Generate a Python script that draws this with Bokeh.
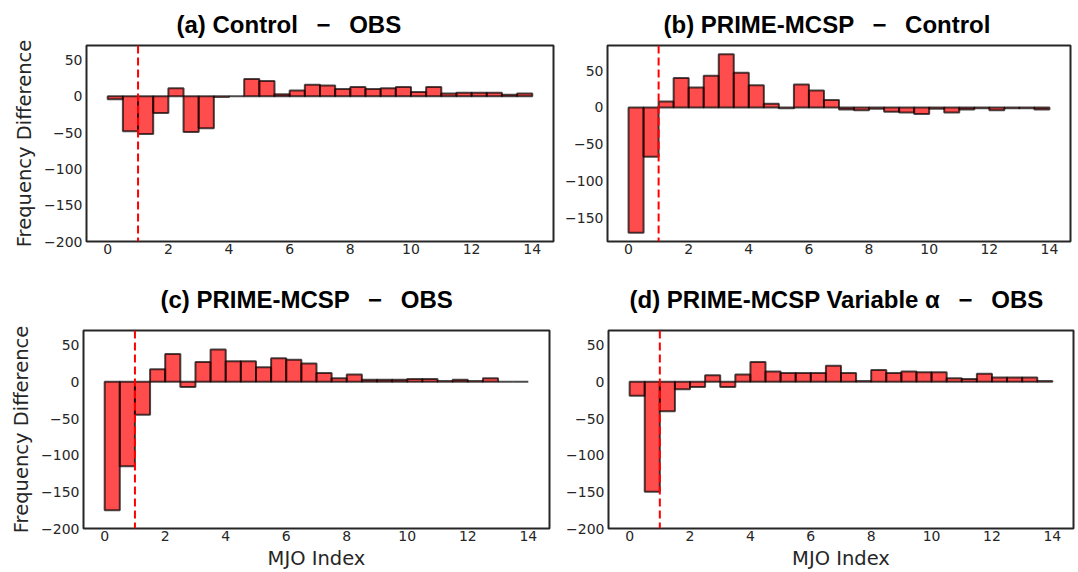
import numpy as np
from bokeh.plotting import figure
from bokeh.layouts import column, row
from bokeh.models import Range1d, Span, FixedTicker
from bokeh.embed import file_html
from bokeh.resources import INLINE

# ---------------- data ----------------
bin_edges = [0.0, 0.5, 1.0, 1.5, 2.0, 2.5, 3.0, 3.5, 4.0, 4.5, 5.0, 5.5, 6.0, 6.5,
             7.0, 7.5, 8.0, 8.5, 9.0, 9.5, 10.0, 10.5, 11.0, 11.5, 12.0, 12.5,
             13.0, 13.5, 14.0]

diff_control_obs = [-4, -48, -52, -23, 11, -49, -44, -1, 0, 24, 21, 3, 8, 16,
                    15, 10, 13, 10, 11, 13, 6, 13, 4, 5, 5, 5, 2, 4]
diff_prime_control = [-170, -67, 8, 40, 27, 43, 72, 47, 30, 5, -1, 31, 23, 10,
                      -3, -4, -2, -6, -7, -9, -2, -7, -3, -1, -4, -1, -1, -3]
diff_prime_obs = [-175, -115, -45, 17, 38, -7, 27, 44, 28, 28, 20, 32, 30, 25,
                  12, 5, 10, 3, 3, 3, 4, 4, 1, 3, 1, 5, 0, 0]
diff_prime_var_obs = [-19, -150, -40, -10, -7, 9, -7, 10, 27, 14, 12, 12, 12, 22,
                      12, 1, 16, 12, 14, 13, 13, 5, 4, 11, 6, 6, 6, 1]

titles = ["(a) Control \u2002\u2212\u2002 OBS",
          "(b) PRIME-MCSP \u2002\u2212\u2002 Control",
          "(c) PRIME-MCSP \u2002\u2212\u2002 OBS",
          "(d) PRIME-MCSP Variable \u03b1 \u2002\u2212\u2002 OBS"]

x_ticks = [0, 2, 4, 6, 8, 10, 12, 14]
y_ticks = [-200, -150, -100, -50, 0, 50]
threshold = 1.0
x_label = "MJO Index"
y_label = "Frequency Difference"

TXT = "#262626"


def make_panel(values, title, ylim, width, height, left, right, top, bottom,
               t_offset, t_standoff, show_ylabel, show_xlabel):
    p = figure(width=width, height=height,
               x_range=Range1d(-0.7, 14.7), y_range=Range1d(*ylim),
               output_backend="svg", toolbar_location=None,
               min_border_left=left, min_border_right=right,
               min_border_top=top, min_border_bottom=bottom,
               title=title)
    p.title.text_font = "Liberation Sans"
    p.title.text_font_size = "24px"
    p.title.text_font_style = "bold"
    p.title.text_color = "black"
    p.title.align = "left"
    p.title.offset = t_offset
    p.title.standoff = t_standoff

    p.xgrid.visible = False
    p.ygrid.visible = False
    p.outline_line_color = TXT
    p.outline_line_width = 2
    p.background_fill_color = "white"
    p.border_fill_color = "white"

    for ax in (p.xaxis, p.yaxis):
        ax.axis_line_color = None
        ax.major_tick_line_color = None
        ax.minor_tick_line_color = None
        ax.major_tick_out = 0
        ax.major_tick_in = 0
        ax.major_label_text_font = "DejaVu Sans"
        ax.major_label_text_font_size = "14px"
        ax.major_label_text_color = TXT
        ax.axis_label_text_font = "DejaVu Sans"
        ax.axis_label_text_font_size = "19.5px"
        ax.axis_label_text_font_style = "normal"
        ax.axis_label_text_color = TXT
    p.xaxis.ticker = FixedTicker(ticks=x_ticks)
    p.yaxis.ticker = FixedTicker(ticks=y_ticks)
    p.yaxis.major_label_overrides = {t: str(t).replace("-", "\u2212") for t in y_ticks}
    p.xaxis.major_label_standoff = 2
    p.yaxis.major_label_standoff = 4
    p.xaxis.axis_label_standoff = 3
    p.yaxis.axis_label_standoff = 5
    if show_ylabel:
        p.yaxis.axis_label = y_label
    if show_xlabel:
        p.xaxis.axis_label = x_label

    p.quad(left=bin_edges[:-1], right=bin_edges[1:], bottom=0, top=values,
           fill_color="red", fill_alpha=0.7,
           line_color="black", line_alpha=0.7, line_width=2)
    p.add_layout(Span(location=threshold, dimension="height", line_color="red",
                      line_dash="8 4", line_width=2))
    return p


pa = make_panel(diff_control_obs, titles[0], (-200, 70), 560, 264,
                86, 7, 45, 23, 90, 16, True, False)
pb = make_panel(diff_prime_control, titles[1], (-182, 84), 518, 264,
                47, 8, 45, 23, 56, 16, False, False)
pc = make_panel(diff_prime_obs, titles[2], (-200, 70), 560, 308,
                83, 11, 66, 44, 77, 36, True, True)
pd = make_panel(diff_prime_var_obs, titles[3], (-200, 70), 518, 308,
                48, 5, 66, 44, 21, 36, False, True)

layout = column(row(pa, pb), row(pc, pd))
open("out.html", "w").write(file_html(layout, INLINE))
